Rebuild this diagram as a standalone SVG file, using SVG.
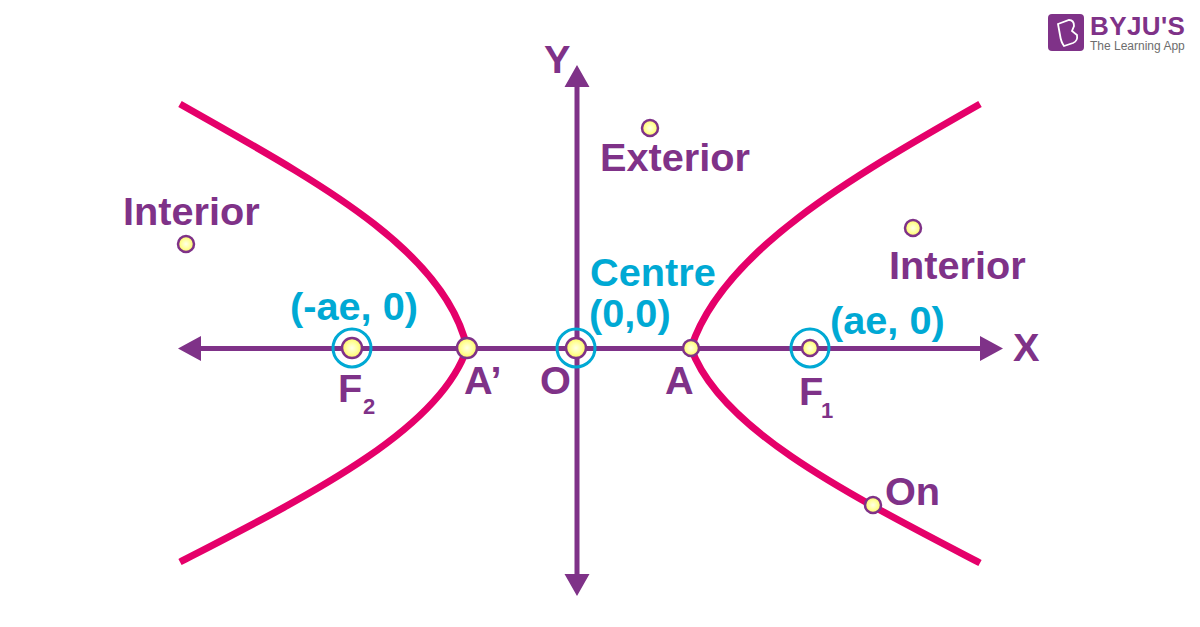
<svg xmlns="http://www.w3.org/2000/svg" width="1200" height="627" viewBox="0 0 1200 627">
<style>
text{font-family:"Liberation Sans",Arial,sans-serif;font-weight:700}
.p{fill:#7f3288;font-size:39.700px}
.b{fill:#00a9d4;font-size:39.700px}
.s{fill:#7f3288;font-size:22px}
.axis{fill:none;stroke:#7f3288;stroke-width:5}
.head{fill:#7f3288}
.curve{fill:none;stroke:#e5006a;stroke-width:7}
.dot{fill:url(#g);stroke:#7f3288;stroke-width:2.500}
.ring{fill:none;stroke:#00a9d4;stroke-width:3}
</style>
<defs>
<radialGradient id="g"><stop offset="0" stop-color="#ffffe8"/><stop offset="0.55" stop-color="#ffffa0"/><stop offset="1" stop-color="#fff860"/></radialGradient>
</defs>
<rect width="1200" height="627" fill="#fff"/>
<g id="connectors">
<path class="axis" d="M195 348.500H987M577 82V580"/>
<path class="head" d="M178 348.500L201 336V361ZM1003 348.500L980 336V361ZM577 65L589.500 87H564.500ZM577 596L564.500 574H589.500Z"/>
<path class="curve" d="M180 104C310 178 445 248 467 348C440 430 310 495 180 562"/>
<path class="curve" d="M980 104C850 178 722 252 691 348C720 430 850 495 980 563"/>
</g>
<g id="node-y"><text class="p" x="544" y="73">Y</text></g>
<g id="node-x"><text class="p" x="1013" y="361">X</text></g>
<g id="node-exterior"><circle class="dot" cx="650" cy="128" r="8"/><text class="p" x="600" y="171">Exterior</text></g>
<g id="node-interior-left"><circle class="dot" cx="186" cy="244" r="8"/><text class="p" x="123" y="225">Interior</text></g>
<g id="node-interior-right"><circle class="dot" cx="913" cy="228" r="8"/><text class="p" x="889" y="279">Interior</text></g>
<g id="node-f2"><circle class="ring" cx="352" cy="348" r="19"/><circle class="dot" cx="352" cy="348" r="10"/><text class="b" x="290" y="320">(-ae, 0)</text><text class="p" x="338" y="402">F</text><text class="s" x="363" y="414">2</text></g>
<g id="node-a-prime"><circle class="dot" cx="467" cy="348" r="10"/><text class="p" x="464" y="394">A’</text></g>
<g id="node-o"><circle class="ring" cx="576" cy="348" r="19"/><circle class="dot" cx="576" cy="348" r="10"/><text class="p" x="540" y="394">O</text><text class="b" x="590" y="286">Centre</text><text class="b" x="589" y="327">(0,0)</text></g>
<g id="node-a"><circle class="dot" cx="691" cy="348" r="8"/><text class="p" x="665" y="394">A</text></g>
<g id="node-f1"><circle class="ring" cx="810" cy="348" r="19"/><circle class="dot" cx="810" cy="348" r="8"/><text class="b" x="830" y="334">(ae, 0)</text><text class="p" x="799" y="405">F</text><text class="s" x="821" y="418">1</text></g>
<g id="node-on"><circle class="dot" cx="873" cy="505" r="8"/><text class="p" x="885" y="505">On</text></g>
<g id="logo">
<rect x="1048" y="14" width="36" height="37" rx="4" fill="#7f3288"/>
<path d="M1058 24L1069 20Q1074 20 1074 26L1072 31L1077 35Q1078 41 1073 43L1064 46Q1061 42 1060 35Z" fill="none" stroke="#fff" stroke-width="1.800"/>
<text x="1090" y="35" style="font-size:26px;letter-spacing:.4px;fill:#7f3288">BYJU'S</text>
<text x="1090" y="50" style="font-size:12px;font-weight:400;fill:#6d6d6d">The Learning App</text>
</g>
</svg>
